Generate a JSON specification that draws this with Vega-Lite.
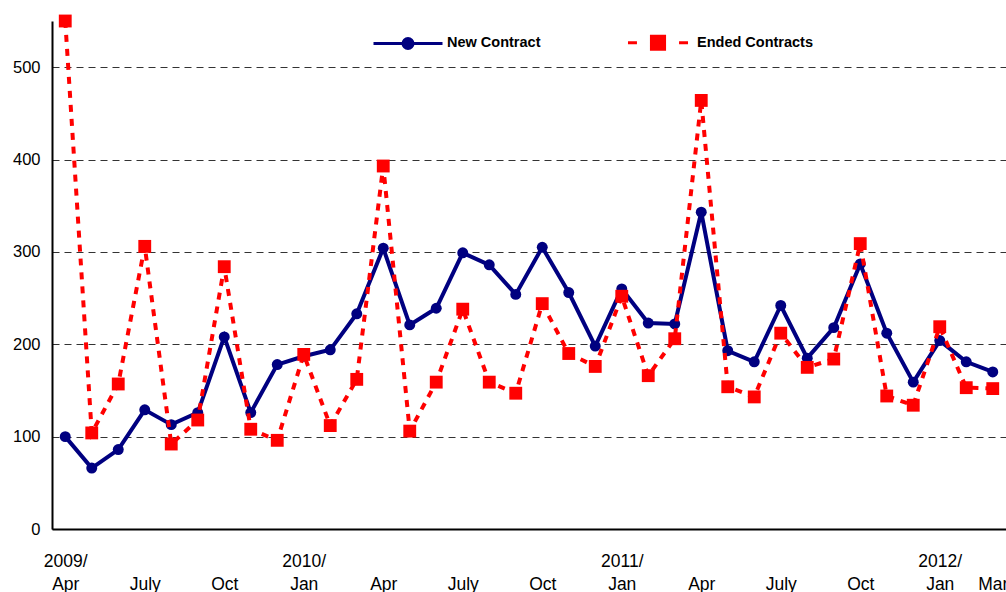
{
  "$schema": "https://vega.github.io/schema/vega-lite/v6.json",
  "width": 954,
  "height": 508,
  "autosize": {"type": "none"},
  "padding": {"left": 52, "top": 21, "right": 0, "bottom": 63},
  "background": "white",
  "config": {
    "view": {"stroke": null},
    "font": "Liberation Sans",
    "axis": {"labelFont": "Liberation Sans", "labelColor": "black", "domainColor": "black", "domainWidth": 2, "ticks": false, "title": null}
  },
  "data": {
    "values": [
      {"month": "2009/04", "New Contract": 100, "Ended Contracts": 550},
      {"month": "2009/05", "New Contract": 66, "Ended Contracts": 104},
      {"month": "2009/06", "New Contract": 86, "Ended Contracts": 157},
      {"month": "2009/07", "New Contract": 129, "Ended Contracts": 306},
      {"month": "2009/08", "New Contract": 113, "Ended Contracts": 92},
      {"month": "2009/09", "New Contract": 126, "Ended Contracts": 118},
      {"month": "2009/10", "New Contract": 208, "Ended Contracts": 284},
      {"month": "2009/11", "New Contract": 126, "Ended Contracts": 108},
      {"month": "2009/12", "New Contract": 178, "Ended Contracts": 96},
      {"month": "2010/01", "New Contract": 187, "Ended Contracts": 189},
      {"month": "2010/02", "New Contract": 194, "Ended Contracts": 112},
      {"month": "2010/03", "New Contract": 233, "Ended Contracts": 162},
      {"month": "2010/04", "New Contract": 304, "Ended Contracts": 393},
      {"month": "2010/05", "New Contract": 221, "Ended Contracts": 106},
      {"month": "2010/06", "New Contract": 239, "Ended Contracts": 159},
      {"month": "2010/07", "New Contract": 299, "Ended Contracts": 238},
      {"month": "2010/08", "New Contract": 286, "Ended Contracts": 159},
      {"month": "2010/09", "New Contract": 254, "Ended Contracts": 147},
      {"month": "2010/10", "New Contract": 305, "Ended Contracts": 244},
      {"month": "2010/11", "New Contract": 256, "Ended Contracts": 190},
      {"month": "2010/12", "New Contract": 198, "Ended Contracts": 176},
      {"month": "2011/01", "New Contract": 260, "Ended Contracts": 252},
      {"month": "2011/02", "New Contract": 223, "Ended Contracts": 166},
      {"month": "2011/03", "New Contract": 222, "Ended Contracts": 206},
      {"month": "2011/04", "New Contract": 343, "Ended Contracts": 464},
      {"month": "2011/05", "New Contract": 193, "Ended Contracts": 154},
      {"month": "2011/06", "New Contract": 181, "Ended Contracts": 143},
      {"month": "2011/07", "New Contract": 242, "Ended Contracts": 212},
      {"month": "2011/08", "New Contract": 185, "Ended Contracts": 175},
      {"month": "2011/09", "New Contract": 218, "Ended Contracts": 184},
      {"month": "2011/10", "New Contract": 287, "Ended Contracts": 309},
      {"month": "2011/11", "New Contract": 212, "Ended Contracts": 144},
      {"month": "2011/12", "New Contract": 159, "Ended Contracts": 134},
      {"month": "2012/01", "New Contract": 204, "Ended Contracts": 219},
      {"month": "2012/02", "New Contract": 181, "Ended Contracts": 153},
      {"month": "2012/03", "New Contract": 170, "Ended Contracts": 152}
    ]
  },
  "transform": [
    {"fold": ["New Contract", "Ended Contracts"], "as": ["series", "value"]}
  ],
  "encoding": {
    "x": {
      "field": "month", "type": "ordinal",
      "scale": {"type": "point", "padding": 0.5},
      "axis": {
        "labelAngle": 0, "labelFontSize": 17.5, "labelLineHeight": 23, "labelPadding": 23,
        "labelBaseline": "top", "labelOverlap": false, "labelBound": false, "grid": false,
        "labelExpr": "substring(datum.value,5,7)=='01' ? [substring(datum.value,0,5),'Jan'] : datum.value=='2009/04' ? ['2009/','Apr'] : substring(datum.value,5,7)=='04' ? ['','Apr'] : substring(datum.value,5,7)=='07' ? ['','July'] : substring(datum.value,5,7)=='10' ? ['','Oct'] : datum.value=='2012/03' ? ['','Mar'] : ''"
      }
    },
    "y": {
      "field": "value", "type": "quantitative",
      "scale": {"domain": [0, 550], "nice": false},
      "axis": {
        "values": [0, 100, 200, 300, 400, 500], "labelFontSize": 16.5, "labelPadding": 12,
        "grid": true, "gridColor": "#333333", "gridDash": [7, 5], "gridWidth": 1
      }
    },
    "color": {
      "field": "series", "type": "nominal",
      "scale": {"domain": ["New Contract", "Ended Contracts"], "range": ["#000080", "#FF0000"]},
      "legend": {
        "title": null, "orient": "none", "direction": "horizontal", "legendX": 320, "legendY": -14.5,
        "padding": 0, "columnPadding": 80, "labelOffset": 3,
        "labelFont": "Liberation Sans", "labelFontSize": 14.5, "labelFontWeight": "bold", "labelColor": "black",
        "symbolSize": 4761, "symbolStrokeWidth": 3, "symbolType": "circle",
        "encode": {
          "symbols": {
            "update": {
              "shape": {"signal": "datum.value === 'New Contract' ? 'M-1,0H1M-0.145,0A0.145,0.145 0 1,0 0.145,0A0.145,0.145 0 1,0 -0.145,0Z' : 'M-0.87,0H-0.61M0.61,0H0.87M-0.19,-0.19H0.19V0.19H-0.19Z'"},
              "size": {"value": 4761},
              "strokeWidth": {"value": 3},
              "fill": {"signal": "datum.value === 'New Contract' ? '#000080' : '#FF0000'"},
              "stroke": {"signal": "datum.value === 'New Contract' ? '#000080' : '#FF0000'"},
              "fillOpacity": {"value": 1},
              "opacity": {"value": 1}
            }
          }
        }
      }
    }
  },
  "layer": [
    {
      "transform": [{"filter": "datum.series === 'New Contract'"}],
      "mark": {"type": "line", "strokeWidth": 4}
    },
    {
      "transform": [{"filter": "datum.series === 'New Contract'"}],
      "mark": {"type": "point", "filled": true, "opacity": 1, "shape": "circle", "size": 120}
    },
    {
      "transform": [{"filter": "datum.series === 'Ended Contracts'"}],
      "mark": {"type": "line", "strokeWidth": 4, "strokeDash": [7, 7]}
    },
    {
      "transform": [{"filter": "datum.series === 'Ended Contracts'"}],
      "mark": {"type": "point", "filled": true, "opacity": 1, "shape": "square", "size": 165}
    }
  ]
}
